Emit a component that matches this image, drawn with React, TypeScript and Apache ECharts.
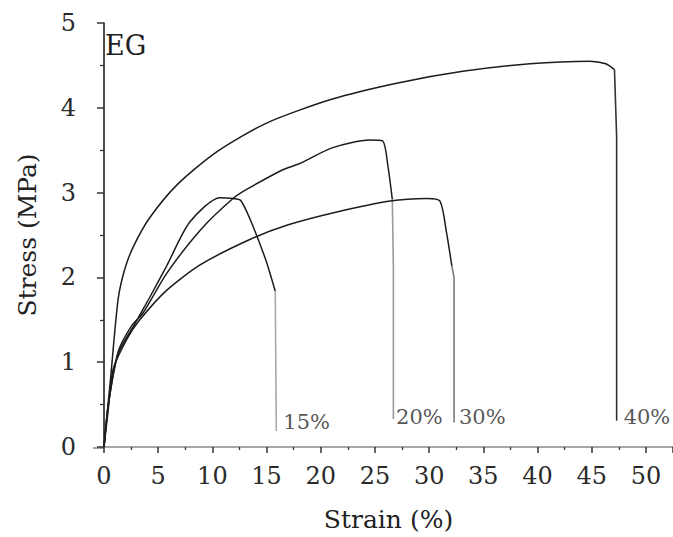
import React, { useEffect, useRef } from "react";
import * as echarts from "echarts";

// Strain (%) / Stress (MPa) pairs
const curve15: number[][] = [
  [0, 0], [0.4, 0.5], [1.3, 1.1], [2.7, 1.42], [4.2, 1.76], [5.8, 2.14], [7.9, 2.65],
  [10.7, 2.94], [11.9, 2.93], [12.6, 2.91], [13.5, 2.68], [15.0, 2.18], [15.8, 1.84],
];
const drop15: number[][] = [[15.8, 1.84], [15.9, 0.19]];

const curve20: number[][] = [
  [0, 0], [0.4, 0.5], [1.3, 1.12], [2.5, 1.42], [3.6, 1.58], [5.8, 2.05], [8.9, 2.56],
  [11.9, 2.93], [13.2, 3.04], [16.5, 3.27], [18.0, 3.34], [21.1, 3.53], [24.5, 3.62], [25.7, 3.61],
  [26.2, 3.31], [26.6, 2.92],
];
const drop20: number[][] = [[26.6, 2.92], [26.7, 2.13], [26.7, 0.33]];

const curve30: number[][] = [
  [0, 0], [0.4, 0.45], [0.85, 0.92], [2.1, 1.27], [3.3, 1.5], [5.8, 1.85], [8.9, 2.15],
  [13.5, 2.45], [17.0, 2.62], [21.1, 2.76], [26.4, 2.9], [29.8, 2.93], [31.0, 2.9],
  [31.6, 2.53], [32.1, 2.13],
];
const drop30: number[][] = [[32.1, 2.13], [32.3, 2.0], [32.3, 0.29]];

const curve40: number[][] = [
  [0, 0], [0.6, 0.8], [1.3, 1.74], [1.9, 2.09], [2.7, 2.36], [4.2, 2.7], [6.8, 3.1],
  [10.4, 3.48], [15.0, 3.82], [21.0, 4.1], [27.0, 4.29], [33.1, 4.43],
  [39.3, 4.52], [44.8, 4.55], [46.3, 4.52], [47.1, 4.45],
];
const drop40: number[][] = [[47.1, 4.45], [47.3, 3.66], [47.3, 0.31]];

// Curve annotations: [strain, stress, text]
const annotations: (number | string)[][] = [
  [16.5, 0.29, "15%"],
  [26.9, 0.35, "20%"],
  [32.7, 0.35, "30%"],
  [47.9, 0.35, "40%"],
];

const xTickStep = 5;
const yTickStep = 1;

const SERIF = "DejaVu Serif";

export default function App() {
  const ref = useRef<HTMLDivElement>(null);
  useEffect(() => {
    if (!ref.current) return;
    const chart = echarts.init(ref.current, undefined, { renderer: "svg" });
    const mainLine = (data: number[][]) => ({
      type: "line",
      data,
      showSymbol: false,
      symbol: "none",
      smooth: 0.25,
      lineStyle: { color: "#1c1c1c", width: 1.5 },
      z: 3,
    });
    const dropLine = (data: number[][], color: string) => ({
      type: "line",
      data,
      showSymbol: false,
      symbol: "none",
      lineStyle: { color, width: 1.6 },
      z: 2,
    });
    chart.setOption({
      animation: false,
      backgroundColor: "#ffffff",
      textStyle: { fontFamily: SERIF },
      grid: { left: 104, right: 0, top: 23, bottom: 89 },
      xAxis: {
        type: "value",
        min: 0,
        max: 52.5,
        interval: xTickStep,
        axisLine: { show: true, onZero: false, lineStyle: { color: "#8a8a8a", width: 1.6 } },
        axisTick: { show: true, length: 6, lineStyle: { color: "#333", width: 1.5 } },
        minorTick: { show: true, splitNumber: 2, length: 3, lineStyle: { color: "#333", width: 1.3 } },
        splitLine: { show: false },
        axisLabel: {
          margin: 17,
          fontFamily: SERIF,
          fontSize: 24,
          color: "#2a2a2a",
          showMaxLabel: false,
          formatter: (v: number) => (v % 5 === 0 ? String(v) : ""),
        },
        name: "Strain (%)",
        nameLocation: "middle",
        nameGap: 60,
        nameTextStyle: { fontFamily: SERIF, fontSize: 25, color: "#222" },
      },
      yAxis: {
        type: "value",
        min: 0,
        max: 5,
        interval: yTickStep,
        offset: 11,
        axisLine: { show: true, lineStyle: { color: "#1e1e1e", width: 1.6 } },
        axisTick: { show: true, length: 7, lineStyle: { color: "#333", width: 1.5 } },
        minorTick: { show: true, splitNumber: 2, length: 4, lineStyle: { color: "#333", width: 1.3 } },
        splitLine: { show: false },
        axisLabel: { margin: 17, fontFamily: SERIF, fontSize: 24, color: "#2a2a2a" },
        name: "Stress (MPa)",
        nameLocation: "middle",
        nameGap: 53,
        nameTextStyle: { fontFamily: SERIF, fontSize: 25, color: "#222" },
      },
      graphic: [
        {
          type: "line",
          shape: { x1: 93, y1: 448, x2: 104, y2: 448 },
          style: { stroke: "#8a8a8a", lineWidth: 1.6 },
        },
        {
          type: "text",
          x: 105,
          y: 45,
          style: {
            text: "EG",
            fontFamily: SERIF,
            fontSize: 27,
            fill: "#1e1e1e",
            align: "left",
            verticalAlign: "middle",
          },
        },
      ],
      series: [
        mainLine(curve15),
        dropLine(drop15, "#a8a8a8"),
        mainLine(curve20),
        dropLine(drop20, "#9a9a9a"),
        mainLine(curve30),
        dropLine(drop30, "#7a7a7a"),
        mainLine(curve40),
        dropLine(drop40, "#333333"),
        {
          type: "scatter",
          data: annotations,
          symbolSize: 1,
          itemStyle: { color: "rgba(0,0,0,0)" },
          label: {
            show: true,
            position: "right",
            distance: 0,
            fontFamily: SERIF,
            fontSize: 21,
            color: "#2a2a2a",
            formatter: (p: any) => String(p.data[2]),
          },
          z: 4,
        },
      ],
    });
    return () => chart.dispose();
  }, []);
  return (
    <div
      ref={ref}
      style={{ position: "absolute", left: 0, top: 0, width: 673, height: 537, background: "#fff" }}
    />
  );
}
